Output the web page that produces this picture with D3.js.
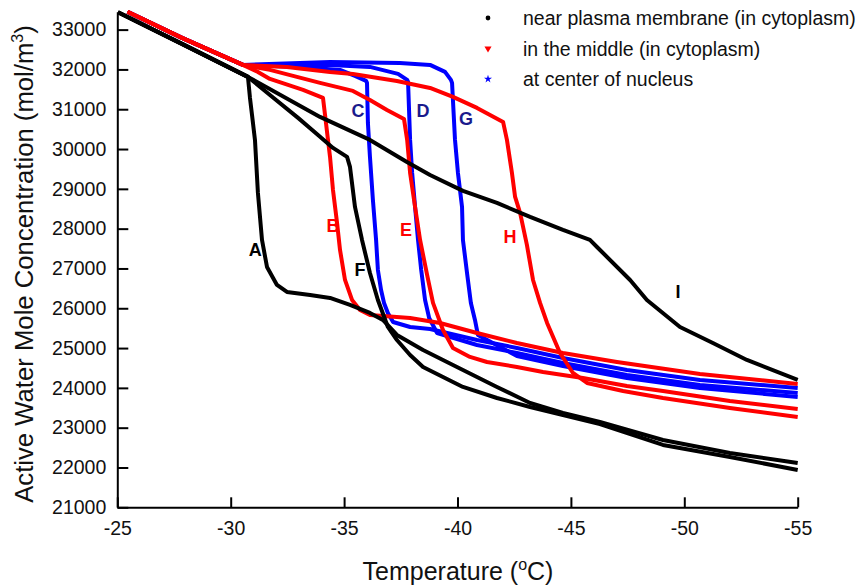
<!DOCTYPE html>
<html>
<head>
<meta charset="utf-8">
<script src="https://cdn.jsdelivr.net/npm/d3@7"></script>
<style>
  body { margin: 0; background: #fff; }
  svg { display: block; font-family: Arial, "Liberation Sans", sans-serif; }
</style>
</head>
<body>
<div id="chart"></div>
<script>
// [temperature °C, active water concentration mol/m3]
const blackStart = [[-25.03, 33437], [-27.85, 32641], [-30.76, 31812]]
const colorStart = [[-25.45, 33450], [-27.85, 32792], [-30.54, 32113]]

// near plasma membrane
const curveA = blackStart.concat([[-30.85, 31284], [-30.94, 30857], [-31.07, 30229], [-31.20, 28897], [-31.38, 27716], [-31.60, 27038], [-32.04, 26586], [-32.48, 26410], [-33.50, 26335], [-34.38, 26259], [-35.26, 26083], [-36.14, 25882], [-36.71, 25706], [-37.33, 25329], [-38.48, 24952], [-40.24, 24450], [-41.74, 24023], [-43.20, 23621], [-44.65, 23369], [-46.28, 23143], [-49.06, 22691], [-52.01, 22364], [-55.0, 22113]])
const curveF = blackStart.concat([[-31.73, 31359], [-32.97, 30782], [-33.85, 30355], [-34.51, 30028], [-35.13, 29802], [-35.26, 29551], [-35.48, 28545], [-35.79, 27716], [-36.14, 26887], [-36.49, 26209], [-36.93, 25530], [-37.33, 25203], [-37.91, 24827], [-38.48, 24525], [-40.24, 24023], [-41.74, 23746], [-43.20, 23520], [-44.65, 23319], [-46.28, 23093], [-49.06, 22566], [-52.01, 22264], [-55.0, 21937]])
const curveI = blackStart.concat([[-33.94, 30807], [-36.14, 30229], [-37.77, 29676], [-38.79, 29349], [-40.24, 28948], [-41.74, 28646], [-43.20, 28294], [-44.65, 27967], [-45.84, 27716], [-46.15, 27540], [-47.61, 26711], [-48.35, 26209], [-49.81, 25530], [-51.26, 25128], [-52.76, 24701], [-55.0, 24199]])

// in the middle
const curveB = colorStart.concat([[-31.20, 31937], [-31.73, 31761], [-33.19, 31485], [-34.07, 31284], [-34.16, 30857], [-34.29, 30229], [-34.38, 29802], [-34.51, 28973], [-34.69, 28144], [-34.82, 27465], [-35.04, 26711], [-35.35, 26209], [-35.70, 25958], [-36.14, 25832], [-37.91, 25756], [-39.23, 25631], [-40.86, 25379], [-42.62, 25128], [-44.65, 24877], [-47.03, 24651], [-50.69, 24349], [-55.0, 24098]])
const curveE = colorStart.concat([[-31.73, 31988], [-33.94, 31661], [-35.39, 31460], [-36.14, 31234], [-36.89, 30983], [-37.64, 30757], [-37.78, 30229], [-37.91, 29400], [-38.13, 28545], [-38.35, 27716], [-38.66, 26837], [-38.92, 26134], [-39.36, 25455], [-39.80, 25003], [-40.55, 24777], [-41.30, 24651], [-42.62, 24525], [-43.77, 24400], [-45.53, 24249], [-47.47, 24048], [-49.06, 23922], [-52.01, 23671], [-55.0, 23470]])
const curveH = colorStart.concat([[-32.48, 32063], [-34.38, 31937], [-35.39, 31887], [-37.33, 31711], [-38.79, 31535], [-39.80, 31310], [-40.86, 31033], [-42.01, 30681], [-42.18, 30229], [-42.40, 29400], [-42.54, 28797], [-42.76, 28395], [-43.06, 27591], [-43.33, 26711], [-43.64, 26134], [-43.95, 25631], [-44.52, 24877], [-45.09, 24374], [-45.71, 24123], [-47.30, 23922], [-49.06, 23746], [-52.01, 23495], [-55.0, 23269]])

// at center of nucleus
const curveC = colorStart.concat([[-33.06, 32063], [-34.82, 31988], [-35.48, 31837], [-35.97, 31711], [-36.01, 31661], [-36.05, 30656], [-36.14, 29802], [-36.27, 28721], [-36.41, 27716], [-36.49, 26962], [-36.63, 26460], [-36.76, 26134], [-36.93, 25882], [-37.16, 25656], [-37.91, 25530], [-38.79, 25480], [-40.86, 25203], [-42.62, 25003], [-44.65, 24751], [-47.47, 24450], [-50.69, 24199], [-55.0, 23998]])
const curveD = colorStart.concat([[-34.38, 32113], [-36.14, 32063], [-37.38, 31887], [-37.78, 31737], [-37.82, 31686], [-37.91, 30229], [-38.00, 29400], [-38.13, 28545], [-38.26, 27716], [-38.40, 26962], [-38.57, 26209], [-38.75, 25756], [-39.10, 25379], [-40.86, 25078], [-42.62, 24877], [-44.65, 24626], [-47.47, 24324], [-50.69, 24073], [-55.0, 23872]])
const curveG = colorStart.concat([[-34.38, 32189], [-37.46, 32164], [-38.79, 32113], [-39.45, 31937], [-39.71, 31737], [-39.76, 31661], [-39.89, 30229], [-40.02, 29400], [-40.20, 28545], [-40.24, 27716], [-40.42, 26887], [-40.59, 26134], [-40.77, 25706], [-40.90, 25329], [-42.62, 24802], [-44.65, 24551], [-47.47, 24249], [-50.69, 23998], [-55.0, 23772]])

const seriesNames = ['near plasma membrane (in cytoplasm)', 'in the middle (in cytoplasm)', 'at center of nucleus']
const seriesCurves = [[curveA, curveF, curveI], [curveB, curveE, curveH], [curveC, curveD, curveG]]
const seriesColors = ['#000000', '#ff0000', '#0000ff']
const labelColors = ['#000000', '#ff0000', '#1a1a8c']

// curve letters with their anchor in data coordinates, grouped by series
const curveLetters = [
  [['A', -31.08, 27465], ['F', -35.70, 26962], ['I', -49.72, 26410]],
  [['B', -34.51, 28068], ['E', -37.73, 27968], ['H', -42.32, 27791]],
  [['C', -35.61, 30958], ['D', -38.48, 30958], ['G', -40.38, 30757]]
]

const xTicks = [-25, -30, -35, -40, -45, -50, -55]
const yTicks = [21000, 22000, 23000, 24000, 25000, 26000, 27000, 28000, 29000, 30000, 31000, 32000, 33000]

const width = 861
const height = 588
const plotLeft = 117.3, plotRight = 797.7, plotTop = 11.7, plotBottom = 507.3

const svg = d3.select('#chart').append('svg')
  .attr('width', width)
  .attr('height', height)

const x = d3.scaleLinear().domain([-25, -55]).range([plotLeft, plotRight])
const y = d3.scaleLinear().domain([21000, 33450]).range([plotBottom, plotTop])

svg.append('clipPath').attr('id', 'plot-clip')
  .append('rect')
  .attr('x', plotLeft).attr('y', plotTop - 2)
  .attr('width', plotRight - plotLeft + 2).attr('height', plotBottom - plotTop + 2)

// Curves: nucleus first, then middle, membrane on top
const line = d3.line().x(d => x(d[0])).y(d => y(d[1]))
const plot = svg.append('g').attr('clip-path', 'url(#plot-clip)')

;[2, 1, 0].forEach(i => {
  plot.selectAll('.curve-' + i)
    .data(seriesCurves[i])
    .join('path')
    .attr('class', 'curve-' + i)
    .attr('fill', 'none')
    .attr('stroke', seriesColors[i])
    .attr('stroke-width', 4)
    .attr('stroke-linejoin', 'round')
    .attr('d', line)
})

// Axes (plain hyphen minus, as in the figure)
const fmt = d => String(d)
const xAxis = svg.append('g')
  .attr('transform', `translate(0,${plotBottom})`)
  .call(d3.axisBottom(x).tickValues(xTicks).tickFormat(fmt).tickSize(-10).tickSizeOuter(0).tickPadding(14))
const yAxis = svg.append('g')
  .attr('transform', `translate(${plotLeft},0)`)
  .call(d3.axisLeft(y).tickValues(yTicks).tickFormat(fmt).tickSize(-11).tickSizeOuter(0).tickPadding(11))

;[xAxis, yAxis].forEach(ax => {
  ax.select('.domain').attr('stroke', '#000').attr('stroke-width', 2)
  ax.selectAll('.tick line').attr('stroke', '#000').attr('stroke-width', 2)
  ax.selectAll('.tick text').attr('fill', '#111').attr('font-size', '19.5px').attr('font-family', 'Arial, "Liberation Sans", sans-serif')
})

// Axis titles
const xTitle = svg.append('text')
  .attr('x', 458)
  .attr('y', 580)
  .attr('text-anchor', 'middle')
  .attr('font-size', '25px')
  .attr('fill', '#111')
xTitle.append('tspan').text('Temperature (')
xTitle.append('tspan').attr('font-size', '16px').attr('dy', '-10').text('o')
xTitle.append('tspan').attr('dy', '10').text('C)')

const yTitle = svg.append('text')
  .attr('transform', 'translate(33,264) rotate(-90)')
  .attr('text-anchor', 'middle')
  .attr('font-size', '25.7px')
  .attr('fill', '#111')
yTitle.append('tspan').text('Active Water Mole Concentration (mol/m')
yTitle.append('tspan').attr('font-size', '16px').attr('dy', '-10').text('3')
yTitle.append('tspan').attr('dy', '10').text(')')

// Curve letters
curveLetters.forEach((letters, i) => {
  svg.selectAll('.letter-' + i)
    .data(letters)
    .join('text')
    .attr('class', 'letter-' + i)
    .attr('x', d => x(d[1]))
    .attr('y', d => y(d[2]))
    .attr('dy', '0.36em')
    .attr('text-anchor', 'middle')
    .attr('font-size', '18px')
    .attr('font-weight', 'bold')
    .attr('fill', labelColors[i])
    .text(d => d[0])
})

// Legend
const legendSymbols = [d3.symbolCircle, d3.symbolTriangle, d3.symbolStar]
const legendSizes = [18, 22, 20]
const legend = svg.append('g').attr('transform', 'translate(488,18)')
seriesNames.forEach((name, i) => {
  const row = legend.append('g').attr('transform', `translate(0,${i * 30.5})`)
  row.append('path')
    .attr('d', d3.symbol(legendSymbols[i], legendSizes[i]))
    .attr('transform', i === 1 ? 'rotate(180)' : null)
    .attr('fill', seriesColors[i])
  row.append('text')
    .attr('x', 35)
    .attr('dy', '0.36em')
    .attr('font-size', '19.5px')
    .attr('fill', '#111')
    .text(name)
})
</script>
</body>
</html>
